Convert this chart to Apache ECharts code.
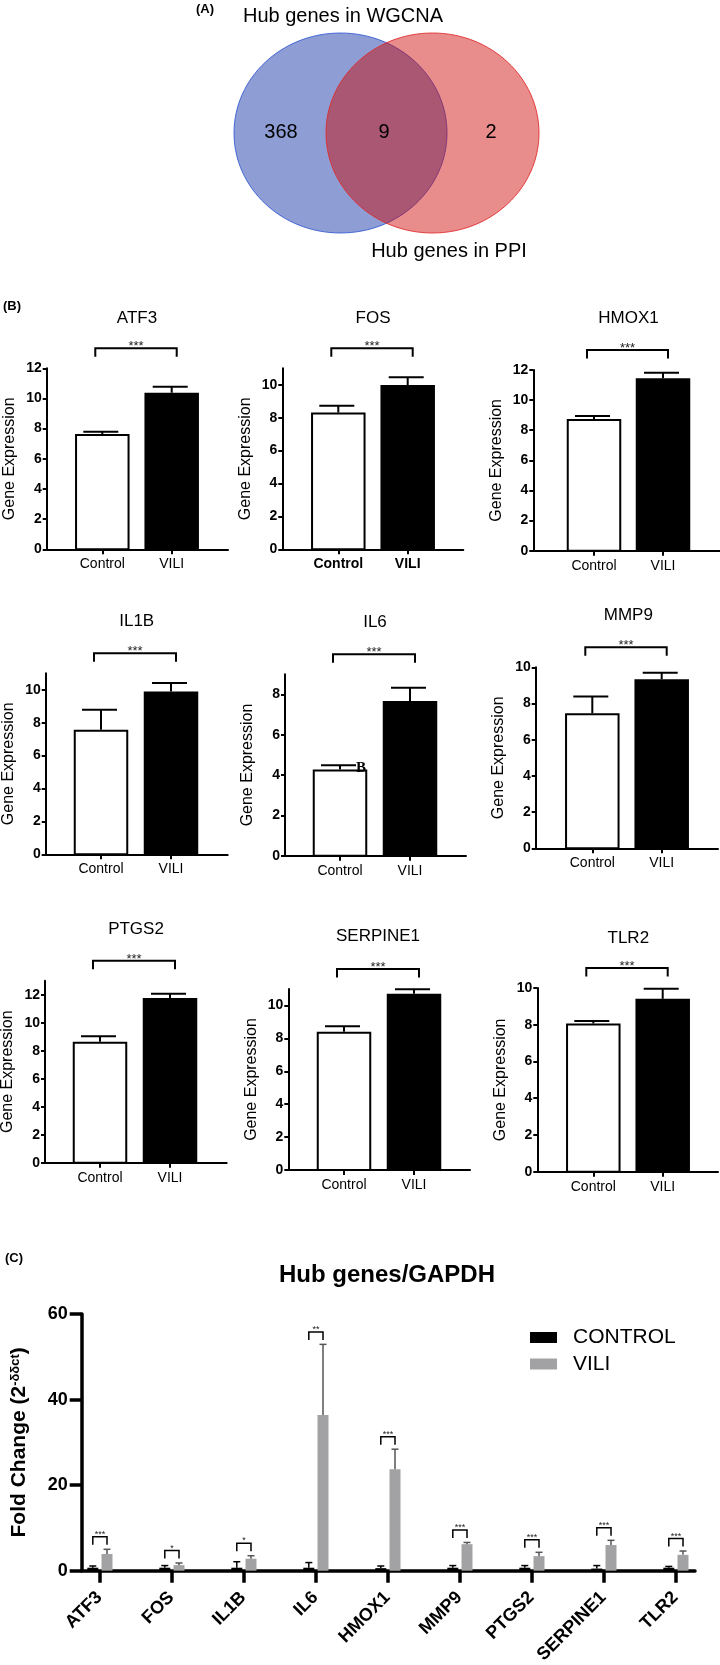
<!DOCTYPE html>
<html><head><meta charset="utf-8">
<script src="https://cdn.jsdelivr.net/npm/echarts@6/dist/echarts.min.js"></script>
<style>html,body{margin:0;padding:0;background:#fff}#c{width:720px;height:1665px}</style>
</head><body><div id="c"></div>
<script>
// ---------- DATA ----------
const vennSetNames = ['Hub genes in WGCNA', 'Hub genes in PPI'];
const vennCounts = [368, 9, 2];

const panelGenes = ['ATF3', 'FOS', 'HMOX1', 'IL1B', 'IL6', 'MMP9', 'PTGS2', 'SERPINE1', 'TLR2'];
const groupNames = ['Control', 'VILI'];
const controlMean = [7.64, 8.31, 8.75, 7.57, 4.28, 7.46, 8.64, 8.40, 8.07];
const controlErr  = [0.16, 0.41, 0.20, 1.21, 0.21, 0.92, 0.39, 0.34, 0.13];
const viliMean    = [10.38, 9.98, 11.45, 9.90, 7.67, 9.34, 11.76, 10.71, 9.41];
const viliErr     = [0.40, 0.47, 0.37, 0.51, 0.66, 0.36, 0.31, 0.27, 0.55];
const panelYMax   = [12, 11, 12, 11, 9, 10, 13, 11, 10];
const panelYTicks = [
  [0, 2, 4, 6, 8, 10, 12], [0, 2, 4, 6, 8, 10], [0, 2, 4, 6, 8, 10, 12],
  [0, 2, 4, 6, 8, 10], [0, 2, 4, 6, 8], [0, 2, 4, 6, 8, 10],
  [0, 2, 4, 6, 8, 10, 12], [0, 2, 4, 6, 8, 10], [0, 2, 4, 6, 8, 10]
];
const panelSig = ['***', '***', '***', '***', '***', '***', '***', '***', '***'];
const panelYName = 'Gene Expression';

const qpcrTitle = 'Hub genes/GAPDH';
const qpcrGenes = ['ATF3', 'FOS', 'IL1B', 'IL6', 'HMOX1', 'MMP9', 'PTGS2', 'SERPINE1', 'TLR2'];
const qpcrSeriesNames = ['CONTROL', 'VILI'];
const qpcrControl    = [0.7, 0.7, 0.7, 0.7, 0.6, 0.7, 0.7, 0.5, 0.7];
const qpcrControlErr = [0.4, 0.5, 1.4, 1.2, 0.5, 0.5, 0.5, 0.7, 0.3];
const qpcrVili       = [3.9, 1.3, 2.8, 36.4, 23.7, 6.2, 3.4, 6.0, 3.7];
const qpcrViliErr    = [1.1, 0.5, 0.7, 16.5, 4.7, 0.4, 0.9, 1.1, 0.9];
const qpcrSig = ['***', '*', '*', '**', '***', '***', '***', '***', '***'];
const qpcrYTicks = [0, 20, 40, 60];

// ---------- LAYOUT ----------
const FONT = '"Liberation Sans", Arial, Helvetica, sans-serif';
// [axisLeft, axisTop, axisBottom, axisRight, firstTickX, tickSpacing, titleX, titleY]
const layoutB = [
  [46.7, 368.3, 549.3, 228, 102.3, 69.4, 137, 318],
  [282.3, 368.3, 549.3, 463.3, 338.3, 69.4, 373, 318],
  [533.3, 370, 550.7, 722, 594, 69, 628.5, 318],
  [45.7, 673.3, 854.3, 227.7, 101, 70, 136.7, 621],
  [285, 674.3, 855.7, 466, 340, 70, 375, 622],
  [535.7, 667.3, 848.3, 718, 592.3, 69.4, 628.3, 615],
  [45, 980.7, 1162.7, 226.7, 100, 70, 136, 929.3],
  [288.3, 989, 1170, 470, 344, 70, 378, 936],
  [537.3, 988, 1171.7, 718, 593.3, 69.4, 628.3, 938.3]
];
const layoutC = {left: 81.7, top: 1314, bottom: 1570.7, right: 695, t0: 99.3, s: 72};

const grids = [], xAxes = [], yAxes = [], series = [];
const graphics = [];

function txt(text, x, y, font, align, valign, fill) {
  return {type: 'text', z: 100, style: {legacy: false, text: text, x: x, y: y, font: font,
    align: align || 'center', verticalAlign: valign || 'middle', fill: fill || '#000'}};
}

// ---------- PANEL B ----------
function renderBBar(params, api) {
  const idx = api.value(0), m = api.value(1), e = api.value(2);
  const base = api.coord([idx, 0]), top = api.coord([idx, m]), et = api.coord([idx, m + e]);
  const w = 54.5, cx = base[0], ctrl = idx === 0;
  const children = [];
  if (ctrl) {
    children.push({type: 'rect', shape: {x: cx - w / 2 + 1, y: top[1] + 1, width: w - 2, height: base[1] - top[1] - 1},
      style: {fill: '#fff', stroke: '#000', lineWidth: 2}});
  } else {
    children.push({type: 'rect', shape: {x: cx - w / 2, y: top[1], width: w, height: base[1] - top[1]},
      style: {fill: '#000'}});
  }
  children.push({type: 'line', shape: {x1: cx, y1: top[1], x2: cx, y2: et[1]}, style: {stroke: '#000', lineWidth: 2}});
  children.push({type: 'line', shape: {x1: cx - 19, y1: et[1], x2: cx + 16, y2: et[1]}, style: {stroke: '#000', lineWidth: 2}});
  return {type: 'group', children: children};
}
function makeBBracket(p) {
  return function (params, api) {
    const cs = params.coordSys;
    const y = cs.y - 20;
    const x1 = api.coord([0, 0])[0] - 7, x2 = api.coord([1, 0])[0] + 5;
    return {type: 'group', children: [
      {type: 'polyline', shape: {points: [[x1, y + 8.5], [x1, y], [x2, y], [x2, y + 8.5]]},
        style: {stroke: '#000', lineWidth: 2, fill: null}},
      {type: 'text', style: {legacy: false, text: panelSig[p], x: (x1 + x2) / 2, y: y - 1.6,
        font: '13px ' + FONT, align: 'center', verticalAlign: 'middle', fill: '#222'}}
    ]};
  };
}

panelGenes.forEach(function (g, p) {
  const L = layoutB[p];
  const left = L[0], top = L[1], bottom = L[2], right = L[3], t0 = L[4], s = L[5];
  grids.push({left: left, top: top, width: right - left, height: bottom - top, containLabel: false, outerBoundsMode: 'none'});
  xAxes.push({
    gridIndex: p, type: 'value', min: -(t0 - left) / s, max: (right - t0) / s,
    axisLine: {show: true, onZero: false, lineStyle: {color: '#000', width: 2}},
    axisTick: {show: true, customValues: [0, 1], length: 5, lineStyle: {color: '#000', width: 2}},
    axisLabel: {show: true, customValues: [0, 1], formatter: function (v) { return groupNames[Math.round(v)]; },
      color: '#000', fontSize: 14, fontFamily: FONT, fontWeight: p === 1 ? 'bold' : 'normal', margin: 8},
    splitLine: {show: false}
  });
  yAxes.push({
    gridIndex: p, type: 'value', min: 0, max: panelYMax[p], interval: 2,
    axisLine: {show: true, onZero: false, lineStyle: {color: '#000', width: 2}},
    axisTick: {show: true, customValues: panelYTicks[p], length: 4, lineStyle: {color: '#000', width: 2}},
    axisLabel: {show: true, customValues: panelYTicks[p], color: '#000', fontSize: 14, fontWeight: 'bold', fontFamily: FONT, margin: 5},
    splitLine: {show: false},
    name: panelYName, nameLocation: 'middle', nameGap: 29,
    nameTextStyle: {color: '#000', fontSize: 16, fontFamily: FONT}
  });
  series.push({
    type: 'custom', xAxisIndex: p, yAxisIndex: p, renderItem: renderBBar, silent: true,
    data: [[0, controlMean[p], controlErr[p]], [1, viliMean[p], viliErr[p]]], z: 3
  });
  series.push({
    type: 'custom', xAxisIndex: p, yAxisIndex: p, renderItem: makeBBracket(p), silent: true,
    data: [[0, 0]], z: 3
  });
  graphics.push(txt(g, L[6], L[7], '17px ' + FONT));
});

// ---------- PANEL C ----------
const ci = panelGenes.length;
grids.push({left: layoutC.left, top: layoutC.top, width: layoutC.right - layoutC.left,
  height: layoutC.bottom - layoutC.top, containLabel: false, outerBoundsMode: 'none'});
const qIdx = qpcrGenes.map(function (_, i) { return i; });
xAxes.push({
  gridIndex: ci, type: 'value', min: -(layoutC.t0 - layoutC.left) / layoutC.s,
  max: (layoutC.right - layoutC.t0) / layoutC.s,
  axisLine: {show: true, onZero: false, lineStyle: {color: '#000', width: 3.5}},
  axisTick: {show: true, customValues: qIdx, length: 12, lineStyle: {color: '#000', width: 3.5}},
  axisLabel: {show: true, customValues: qIdx, formatter: function (v) { return qpcrGenes[Math.round(v)]; },
    rotate: 45, color: '#000', fontSize: 18, fontWeight: 'bold', fontFamily: FONT, margin: 24},
  splitLine: {show: false}
});
yAxes.push({
  gridIndex: ci, type: 'value', min: 0, max: 60, interval: 20,
  axisLine: {show: true, onZero: false, lineStyle: {color: '#000', width: 3.5}},
  axisTick: {show: true, customValues: qpcrYTicks, length: 12, lineStyle: {color: '#000', width: 3.5}},
  axisLabel: {show: true, customValues: qpcrYTicks, color: '#000', fontSize: 18, fontWeight: 'bold', fontFamily: FONT, margin: 14},
  splitLine: {show: false},
  name: '{b|Fold Change (2}{sup|-δδct}{b|)}', nameLocation: 'middle', nameGap: 52,
  nameTextStyle: {color: '#000', fontSize: 21, fontWeight: 'bold', fontFamily: FONT,
    rich: {b: {fontSize: 21, fontWeight: 'bold', fontFamily: FONT, color: '#000'},
      sup: {fontSize: 13, fontWeight: 'bold', fontFamily: FONT, color: '#000', verticalAlign: 'top'}}}
});
function makeQBar(offset, color, errColor) {
  return function (params, api) {
    const i = api.value(0), m = api.value(1), e = api.value(2);
    const base = api.coord([i, 0]), top = api.coord([i, m]), et = api.coord([i, m + e]);
    const cx = base[0] + offset;
    return {type: 'group', children: [
      {type: 'rect', shape: {x: cx - 5.5, y: top[1], width: 11, height: base[1] - top[1]}, style: {fill: color}},
      {type: 'line', shape: {x1: cx, y1: top[1], x2: cx, y2: et[1]}, style: {stroke: errColor, lineWidth: 1.5}},
      {type: 'line', shape: {x1: cx - 3.5, y1: et[1], x2: cx + 3.5, y2: et[1]}, style: {stroke: errColor, lineWidth: 1.5}}
    ]};
  };
}
series.push({
  name: qpcrSeriesNames[0], type: 'custom', xAxisIndex: ci, yAxisIndex: ci, silent: true,
  itemStyle: {color: '#000'}, renderItem: makeQBar(-6.5, '#000', '#000'),
  data: qIdx.map(function (i) { return [i, qpcrControl[i], qpcrControlErr[i]]; })
});
series.push({
  name: qpcrSeriesNames[1], type: 'custom', xAxisIndex: ci, yAxisIndex: ci, silent: true,
  itemStyle: {color: '#a2a2a5'}, renderItem: makeQBar(7.7, '#a2a2a5', '#555'),
  data: qIdx.map(function (i) { return [i, qpcrVili[i], qpcrViliErr[i]]; })
});
series.push({
  type: 'custom', xAxisIndex: ci, yAxisIndex: ci, silent: true,
  renderItem: function (params, api) {
    const i = api.value(0), t = api.value(1);
    const p = api.coord([i, t]);
    const y = p[1] - 12.5;
    const x1 = p[0] - 6.5, x2 = p[0] + 7.7;
    return {type: 'group', children: [
      {type: 'polyline', shape: {points: [[x1, y + 8], [x1, y], [x2, y], [x2, y + 8]]},
        style: {stroke: '#000', lineWidth: 1.5, fill: null}},
      {type: 'text', style: {legacy: false, text: qpcrSig[i], x: (x1 + x2) / 2, y: y - 2.3,
        font: '9px ' + FONT, align: 'center', verticalAlign: 'middle', fill: '#222'}}
    ]};
  },
  data: qIdx.map(function (i) {
    return [i, Math.max(qpcrControl[i] + qpcrControlErr[i], qpcrVili[i] + qpcrViliErr[i])];
  })
});

// ---------- VENN & LABELS ----------
graphics.push({type: 'ellipse', z: 10, shape: {cx: 340.5, cy: 133, rx: 106.5, ry: 100},
  style: {fill: 'rgba(5,40,160,0.45)', stroke: 'rgba(40,80,210,0.8)', lineWidth: 1}});
graphics.push({type: 'ellipse', z: 11, shape: {cx: 432.5, cy: 133, rx: 106.5, ry: 100},
  style: {fill: 'rgba(204,0,0,0.45)', stroke: 'rgba(225,40,40,0.85)', lineWidth: 1}});
graphics.push(txt(String(vennCounts[0]), 281, 132, '20px ' + FONT));
graphics.push(txt(String(vennCounts[1]), 384, 132, '20px ' + FONT));
graphics.push(txt(String(vennCounts[2]), 491, 132, '20px ' + FONT));
graphics.push(txt(vennSetNames[0], 343, 16.5, '20px ' + FONT));
graphics.push(txt(vennSetNames[1], 449, 251, '20px ' + FONT));
graphics.push(txt('(A)', 205, 9.5, 'bold 13px ' + FONT));
graphics.push(txt('(B)', 12, 306, 'bold 13px ' + FONT));
graphics.push(txt('(C)', 14, 1258, 'bold 13px ' + FONT));
graphics.push(txt(qpcrTitle, 387, 1275, 'bold 24px ' + FONT));
graphics.push(txt('B', 361, 768.5, 'bold 15px "Liberation Serif", "DejaVu Serif", serif'));

const chart = echarts.init(document.getElementById('c'), null, {renderer: 'canvas'});
chart.setOption({
  animation: false,
  backgroundColor: '#fff',
  grid: grids, xAxis: xAxes, yAxis: yAxes, series: series,
  legend: {
    orient: 'vertical', left: 525, top: 1322, itemWidth: 27, itemHeight: 11, itemGap: 5.5,
    selectedMode: false,
    textStyle: {fontSize: 21, color: '#000', fontFamily: FONT, padding: [0, 0, 0, 11]},
    data: [{name: qpcrSeriesNames[0], icon: 'rect'}, {name: qpcrSeriesNames[1], icon: 'rect'}]
  },
  graphic: {elements: graphics}
});
</script></body></html>
